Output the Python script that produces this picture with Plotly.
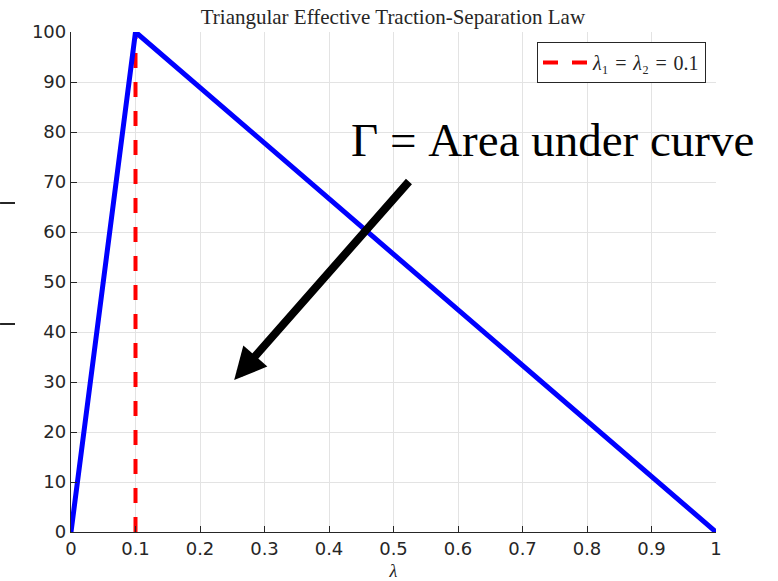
import plotly.graph_objects as go

# Data
lam = [0.0, 0.1, 1.0]
traction = [0, 100, 0]
lam_c = [0.1, 0.1]
lam_c_y = [0, 100]
legend_label = "<i>λ</i>₁\u2004=\u2004<i>λ</i>₂\u2004=\u20040.1"
x_ticks = [0, 0.1, 0.2, 0.3, 0.4, 0.5, 0.6, 0.7, 0.8, 0.9, 1]
x_tick_text = ["0", "0.1", "0.2", "0.3", "0.4", "0.5", "0.6", "0.7", "0.8", "0.9", "1"]
y_ticks = [0, 10, 20, 30, 40, 50, 60, 70, 80, 90, 100]
arrow_tail = (0.526, 70.4)
arrow_tip = (0.253, 30.4)
label_pos = (0.747, 78.4)

fig = go.Figure()
fig.add_trace(go.Scatter(
    x=lam_c, y=lam_c_y, mode="lines", name=legend_label,
    line=dict(color="#FF0000", width=4, dash="15px,14px"),
))
fig.add_trace(go.Scatter(
    x=lam, y=traction, mode="lines", showlegend=False,
    line=dict(color="#0000FF", width=5),
))

axis_common = dict(
    showgrid=True, gridcolor="#e3e3e3", gridwidth=1,
    showline=True, linecolor="#262626", linewidth=1.3,
    ticks="inside", ticklen=6, tickcolor="#262626",
    tickfont=dict(family="DejaVu Sans", size=18, color="#262626"),
    zeroline=False, automargin=False,
)

fig.update_layout(
    width=778, height=581,
    margin=dict(l=71, r=62, t=32, b=49),
    paper_bgcolor="white", plot_bgcolor="white",
    title=dict(text="Triangular Effective Traction-Separation Law",
               x=0.505, xanchor="center", y=0.971, yanchor="middle",
               font=dict(family="Liberation Serif", size=21, color="#262626"),
               automargin=False),
    xaxis=dict(range=[0, 1], tickvals=x_ticks, ticktext=x_tick_text,
               title=dict(text="<i>λ</i>", standoff=12,
                          font=dict(family="Liberation Serif", size=18, color="#262626")),
               **axis_common),
    yaxis=dict(range=[0, 100], tickvals=y_ticks, **axis_common),
    legend=dict(x=0.9845, y=0.98, xanchor="right", yanchor="top",
                bgcolor="white", bordercolor="#262626", borderwidth=1,
                font=dict(family="Liberation Serif", size=20, color="#262626"),
                itemwidth=45, tracegroupgap=0),
    showlegend=True,
)

fig.add_annotation(
    x=arrow_tip[0], y=arrow_tip[1], ax=arrow_tail[0], ay=arrow_tail[1],
    xref="x", yref="y", axref="x", ayref="y",
    showarrow=True, arrowhead=2, arrowsize=0.8, arrowwidth=8, arrowcolor="black",
    text="",
)
fig.add_annotation(
    x=label_pos[0], y=label_pos[1], xref="x", yref="y",
    text="Γ = Area under curve", showarrow=False,
    font=dict(family="Liberation Serif", size=47, color="black"),
    xanchor="center", yanchor="middle",
)

# cropped fragments of the y-axis label at far left
fig.add_shape(type="line", xref="paper", yref="paper",
              x0=-0.110, x1=-0.0868, y0=0.658, y1=0.658,
              line=dict(color="#262626", width=2))
fig.add_shape(type="line", xref="paper", yref="paper",
              x0=-0.110, x1=-0.0868, y0=0.416, y1=0.416,
              line=dict(color="#262626", width=2))

fig.write_html("out.html", config={"displayModeBar": False},
               post_script="document.body.style.margin='0px';")
